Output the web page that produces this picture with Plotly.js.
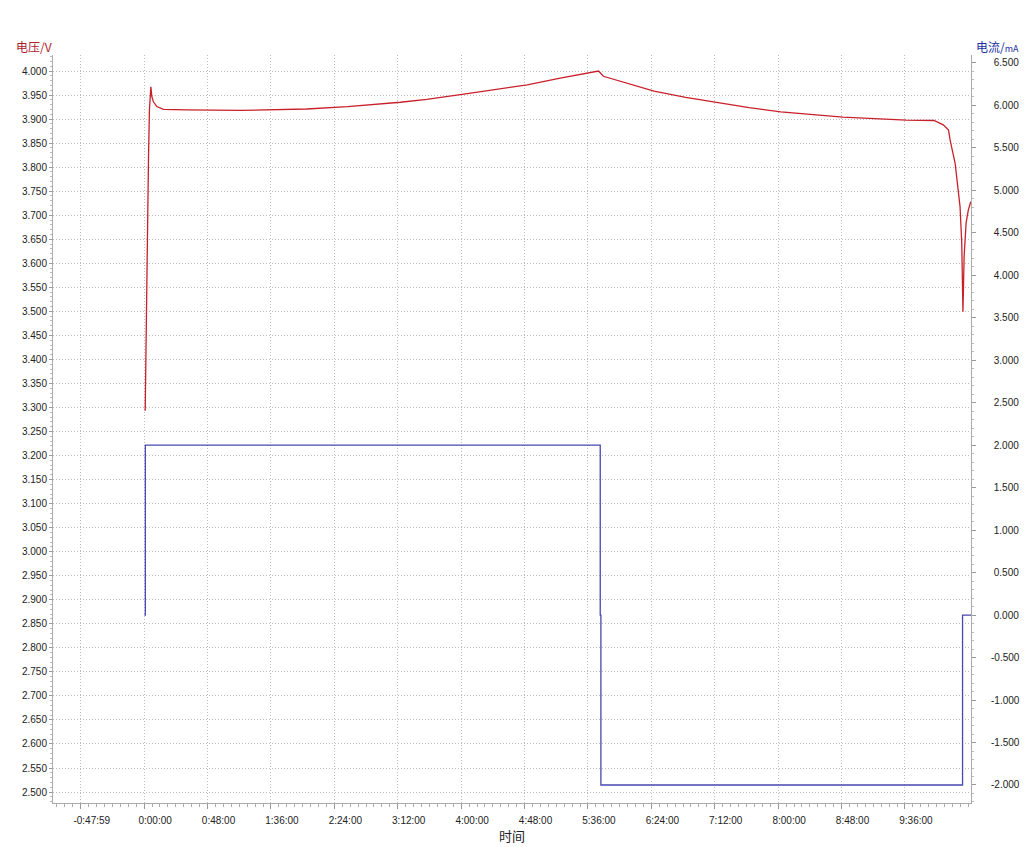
<!DOCTYPE html>
<html>
<head>
<meta charset="utf-8">
<script src="https://cdn.plot.ly/plotly-3.0.1.min.js"></script>
<style>
  html, body { margin: 0; padding: 0; background: #fff; }
  #chart { width: 1024px; height: 847px; }
</style>
</head>
<body>
<div id="chart"></div>
<script>
// time in minutes since start
const voltTime = [0.8, 1.4, 2.0, 2.5, 3.3, 4.0, 5.1, 5.8, 7.0, 9.6, 14.6, 32, 73, 123, 154, 194, 214, 242, 275, 290, 315, 344, 347.7, 352.8, 360.4, 386, 410, 434, 458, 482, 505, 529, 553, 577, 598, 605, 609, 610.2, 614, 617.7, 619.0, 619.7, 619.9, 620.8, 622.3, 624.0, 625.8];
const voltVal  = [3.293, 3.42, 3.61, 3.76, 3.82, 3.919, 3.967, 3.947, 3.936, 3.926, 3.920, 3.919, 3.918, 3.921, 3.926, 3.935, 3.941, 3.952, 3.964, 3.971, 3.985, 4.000, 3.989, 3.985, 3.978, 3.958, 3.945, 3.934, 3.924, 3.915, 3.909, 3.904, 3.901, 3.898, 3.897, 3.888, 3.877, 3.856, 3.808, 3.718, 3.642, 3.565, 3.499, 3.614, 3.684, 3.711, 3.728];

const curTime = [0.2, 0.9, 0.9, 345.3, 345.3, 345.8, 345.8, 619.6, 619.6, 626];
const curVal  = [0, 0, 2, 2, 0, 0, -2, -2, 0, 0];

const xTickVals = [-48, 0, 48, 96, 144, 192, 240, 288, 336, 384, 432, 480, 528, 576];
const xTickText = ["-0:47:59", "0:00:00", "0:48:00", "1:36:00", "2:24:00", "3:12:00", "4:00:00", "4:48:00", "5:36:00", "6:24:00", "7:12:00", "8:00:00", "8:48:00", "9:36:00"];

const y2TickVals = [-2, -1.5, -1, -0.5, 0, 0.5, 1, 1.5, 2, 2.5, 3, 3.5, 4, 4.5, 5, 5.5, 6, 6.5];
const y2TickText = ["-2.000", "-1.500", "-1.000", "-0.500", "\u00a00.000", "\u00a00.500", "\u00a01.000", "\u00a01.500", "\u00a02.000", "\u00a02.500", "\u00a03.000", "\u00a03.500", "\u00a04.000", "\u00a04.500", "\u00a05.000", "\u00a05.500", "\u00a06.000", "\u00a06.500"];

const leftTitle = "电压/V";
const rightTitle = "电流/<span style='font-size:9px'>mA</span>";
const xTitle = "时间";

const tickFont = { family: "Liberation Sans, Arial, sans-serif", size: 10, color: "#222" };

const traces = [
  {
    x: voltTime, y: voltVal, type: "scatter", mode: "lines",
    line: { color: "#c8202a", width: 1.3 }, yaxis: "y", hoverinfo: "skip"
  },
  {
    x: curTime, y: curVal, type: "scatter", mode: "lines",
    line: { color: "#4848b0", width: 1.3 }, yaxis: "y2", hoverinfo: "skip"
  }
];

const layout = {
  width: 1024, height: 847,
  margin: { l: 53, r: 53, t: 55, b: 44 },
  paper_bgcolor: "#fff", plot_bgcolor: "#fff",
  showlegend: false,
  xaxis: {
    range: [-69, 626],
    tickmode: "array", tickvals: xTickVals, ticktext: xTickText,
    tickfont: tickFont, ticks: "outside", ticklen: 5, tickcolor: "#999",
    ticklabelshift: 11, ticklabelstandoff: 3,
    showgrid: true, gridcolor: "#bdbdbd", griddash: "1px,2px", gridwidth: 1,
    showline: true, linecolor: "#aaa", linewidth: 1,
    zeroline: false,
    minor: { tickmode: "linear", tick0: 0, dtick: 6, ticks: "outside", ticklen: 3, tickcolor: "#aaa", showgrid: false }
  },
  yaxis: {
    range: [2.4772, 4.0333],
    tickmode: "linear", tick0: 2.5, dtick: 0.05, tickformat: ".3f",
    tickfont: tickFont, ticks: "outside", ticklen: 3, tickcolor: "#999",
    showgrid: true, gridcolor: "#bdbdbd", griddash: "1px,2px", gridwidth: 1,
    showline: true, linecolor: "#aaa", linewidth: 1,
    zeroline: false,
    minor: { tickmode: "linear", tick0: 2.5, dtick: 0.01, ticks: "outside", ticklen: 2, tickcolor: "#bbb", showgrid: false }
  },
  yaxis2: {
    range: [-2.212, 6.594], overlaying: "y", side: "right",
    tickmode: "array", tickvals: y2TickVals, ticktext: y2TickText,
    tickfont: tickFont, ticks: "outside", ticklen: 4, tickcolor: "#999",
    ticklabelstandoff: 13,
    showgrid: false, zeroline: false,
    showline: true, linecolor: "#aaa", linewidth: 1,
    minor: { tickmode: "linear", tick0: 0, dtick: 0.1, ticks: "outside", ticklen: 2, tickcolor: "#bbb", showgrid: false }
  },
  annotations: [
    { text: leftTitle, xref: "paper", yref: "paper", x: 0, y: 1.0, xanchor: "left", yanchor: "bottom", xshift: -39, yshift: -2, showarrow: false,
      font: { family: "Noto Sans CJK SC, sans-serif", size: 12, color: "#b0202a" } },
    { text: rightTitle, xref: "paper", yref: "paper", x: 1.0, y: 1.0, xanchor: "left", yanchor: "bottom", xshift: 3, yshift: -2, showarrow: false,
      font: { family: "Noto Sans CJK SC, sans-serif", size: 12, color: "#2030a0" } },
    { text: xTitle, xref: "paper", yref: "paper", x: 0.5, y: 0, xanchor: "center", yanchor: "top", xshift: -0.5, yshift: -21, showarrow: false,
      font: { family: "Noto Sans CJK SC, sans-serif", size: 13, color: "#222" } }
  ]
};

Plotly.newPlot("chart", traces, layout, { staticPlot: true, displayModeBar: false });
</script>
</body>
</html>
